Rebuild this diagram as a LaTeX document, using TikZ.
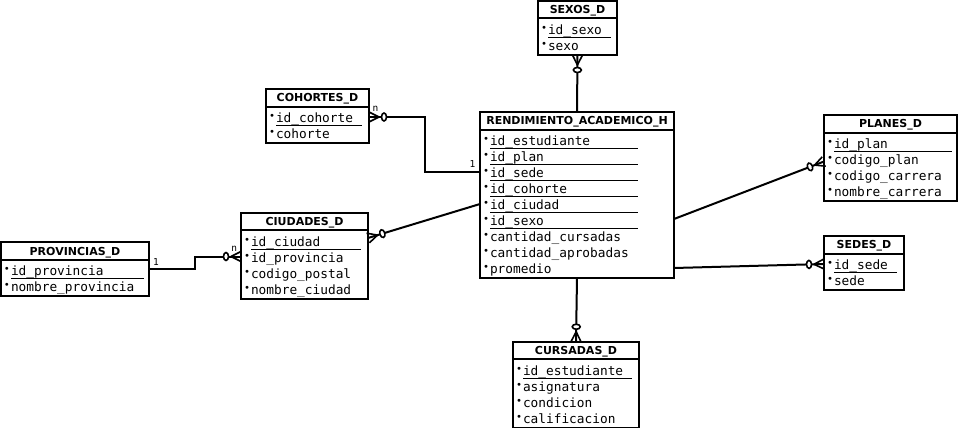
\documentclass[tikz,border=0pt]{standalone}
\usepackage{fontspec}
\setmainfont{DejaVu Sans}
\setmonofont{DejaVu Sans Mono}
\usepackage{tikz}
\usetikzlibrary{positioning,decorations.markings}

% row struts: first row taller, then 16pt per row
\newcommand{\fstrut}{\rule[-4.5pt]{0pt}{20.5pt}}
\newcommand{\bul}{\makebox[7pt][l]{\raisebox{3.2pt}{\fontsize{10}{10}\selectfont\textbullet}}}
\newcommand{\fld}[1]{\rule[-4.5pt]{0pt}{16pt}\bul#1}
\newcommand{\pk}[2]{\rule[-4.5pt]{0pt}{16pt}\bul\rlap{\rule[-3.2pt]{#1}{0.9pt}}#2}

\begin{document}
\begin{tikzpicture}[x=1pt,y=-1pt,
    etitle/.style={draw, line width=2pt, fill=white, minimum height=17.5pt,
        inner sep=0pt, outer sep=0pt, text height=8pt, text depth=0pt,
        font=\bfseries\fontsize{11}{11}\selectfont},
    ebody/.style={draw, line width=2pt, fill=white, inner xsep=3pt, inner ysep=0pt,
        outer sep=0pt, align=left, font=\ttfamily\fontsize{12.8}{16}\selectfont},
    rel/.style={line width=2pt},
    many/.style={postaction={decorate, decoration={markings,
        mark=at position 1 with {
            \draw[line width=1.6pt] (-10pt,0) -- (0,5pt) (-10pt,0) -- (0,-5pt);
            \draw[line width=1.6pt, fill=white] (-15pt,0) ellipse (2.5pt and 4pt);}}}},
    card/.style={inner sep=0pt, font=\ttfamily\fontsize{9.5}{9.5}\selectfont}]

    \useasboundingbox (0,0) rectangle (958,428);

    % fact table
    \node[etitle, minimum width=194pt] (rendT) at (577,120.75) {RENDIMIENTO\_ACADEMICO\_H};
    \node[ebody, text width=188pt, below=0pt of rendT] (rend) {\fstrut\pk{148pt}{id\_estudiante}\\
        \pk{148pt}{id\_plan}\\ \pk{148pt}{id\_sede}\\ \pk{148pt}{id\_cohorte}\\
        \pk{148pt}{id\_ciudad}\\ \pk{148pt}{id\_sexo}\\ \fld{cantidad\_cursadas}\\
        \fld{cantidad\_aprobadas}\\ \fld{promedio}};

    % dimensions
    \node[etitle, minimum width=79pt] (sexosT) at (577.5,9.75) {SEXOS\_D};
    \node[ebody, text width=73pt, below=0pt of sexosT] (sexos) {\fstrut\pk{63pt}{id\_sexo}\\ \fld{sexo}};

    \node[etitle, minimum width=103pt] (cohortesT) at (317.5,97.75) {COHORTES\_D};
    \node[ebody, text width=97pt, below=0pt of cohortesT] (cohortes) {\fstrut\pk{86pt}{id\_cohorte}\\ \fld{cohorte}};

    \node[etitle, minimum width=127pt] (ciudadesT) at (304.5,221.5) {CIUDADES\_D};
    \node[ebody, text width=121pt, below=0pt of ciudadesT] (ciudades) {\fstrut\pk{110pt}{id\_ciudad}\\
        \fld{id\_provincia}\\ \fld{codigo\_postal}\\ \fld{nombre\_ciudad}};

    \node[etitle, minimum width=148pt] (provinciasT) at (75,251) {PROVINCIAS\_D};
    \node[ebody, text width=142pt, below=0pt of provinciasT] (provincias) {\fstrut\pk{133pt}{id\_provincia}\\ \fld{nombre\_provincia}};

    \node[etitle, minimum width=133pt] (planesT) at (890.5,123.75) {PLANES\_D};
    \node[ebody, text width=127pt, below=0pt of planesT] (planes) {\fstrut\pk{118pt}{id\_plan}\\
        \fld{codigo\_plan}\\ \fld{codigo\_carrera}\\ \fld{nombre\_carrera}};

    \node[etitle, minimum width=80pt] (sedesT) at (864,244.75) {SEDES\_D};
    \node[ebody, text width=74pt, below=0pt of sedesT] (sedes) {\fstrut\pk{63pt}{id\_sede}\\ \fld{sede}};

    \node[etitle, minimum width=126pt] (cursadasT) at (576,350.5) {CURSADAS\_D};
    \node[ebody, text width=120pt, below=0pt of cursadasT] (cursadas) {\fstrut\pk{109pt}{id\_estudiante}\\
        \fld{asignatura}\\ \fld{condicion}\\ \fld{calificacion}};

    % relations
    \draw[rel, many] (rendT.north) -- (sexos.south);
    \draw[rel, many] (rend.west |- 0,172) -- (425,172) |- (cohortes.east |- 0,117);
    \draw[rel, many] (rend.west |- 0,204) -- (ciudades.east |- 0,238);
    \draw[rel, many] (provincias.east |- 0,269) -- (195,269) |- (ciudades.west |- 0,256.5);
    \draw[rel, many] (rend.east |- 0,219) -- (planes.west |- 0,161.5);
    \draw[rel, many] (rend.east |- 0,268) -- (sedes.west |- 0,264);
    \draw[rel, many] (rend.south) -- (cursadasT.north);

    % cardinalities
    \node[card] (cohOne) at (472.5,164.5) {1};
    \node[card] (cohN) at (375.5,109) {n};
    \node[card] (provOne) at (156,262.5) {1};
    \node[card] (provN) at (234.2,249.2) {n};
\end{tikzpicture}
\end{document}
